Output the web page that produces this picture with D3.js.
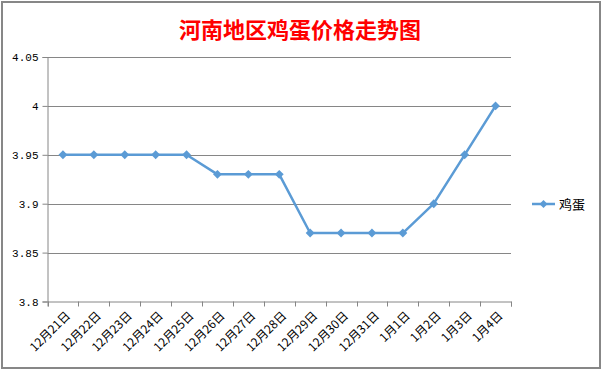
<!DOCTYPE html>
<html><head><meta charset="utf-8">
<script src="https://cdn.jsdelivr.net/npm/d3@7/dist/d3.min.js"></script>
<style>html,body{margin:0;padding:0;background:#fff;}svg{display:block;}</style>
</head><body>
<script>
const categories = ["12月21日","12月22日","12月23日","12月24日","12月25日","12月26日","12月27日","12月28日","12月29日","12月30日","12月31日","1月1日","1月2日","1月3日","1月4日"];
const eggPrices = [3.95,3.95,3.95,3.95,3.95,3.93,3.93,3.93,3.87,3.87,3.87,3.87,3.9,3.95,4.0];
const yTicks = [3.8,3.85,3.9,3.95,4.0,4.05];
const yTickLabels = ["3.8","3.85","3.9","3.95","4","4.05"];
const seriesName = "鸡蛋";
const chartTitle = "河南地区鸡蛋价格走势图";

(function(){
const W = 604, H = 371;
const svg = d3.select("body").append("svg").attr("width", W).attr("height", H);
svg.append("rect").attr("x",0).attr("y",0).attr("width",W).attr("height",H).attr("fill","#fff");
svg.append("rect").attr("x",2).attr("y",2).attr("width",598).attr("height",366)
  .attr("fill","#fff").attr("stroke","#878787").attr("stroke-width",2);

const pLeft = 47.5, pRight = 511, pTop = 57, pBottom = 301.5;
const x = d3.scaleBand().domain(categories).range([pLeft, pRight]);
const y = d3.scaleLinear().domain([3.8, 4.05]).range([pBottom, pTop]);
const grid = "#868686";

svg.append("text").attr("x", 300).attr("y", 38).attr("text-anchor","middle")
  .attr("fill","#ff0000").attr("font-weight","bold").attr("font-size",22)
  .attr("font-family","'Noto Sans CJK SC', sans-serif").text(chartTitle);

// gridlines
svg.append("g").selectAll("line").data(yTicks.slice(1)).join("line")
  .attr("x1", pLeft).attr("x2", pRight)
  .attr("y1", d => Math.round(y(d)) + 0.5).attr("y2", d => Math.round(y(d)) + 0.5)
  .attr("stroke", grid).attr("stroke-width",1);

// y axis
const yAxis = d3.axisLeft(y).tickValues(yTicks).tickFormat((d,i)=>yTickLabels[i]).tickSize(5).tickPadding(4);
const gy = svg.append("g").attr("transform",`translate(${pLeft},0)`).call(yAxis);
gy.select(".domain").attr("stroke", grid);
gy.selectAll(".tick line").attr("stroke", grid);
gy.selectAll(".tick text").attr("font-family","'Liberation Mono', 'DejaVu Sans Mono', monospace").attr("font-size",11).attr("fill","#000");

// x axis
const xAxis = d3.axisBottom(x).tickSizeOuter(0).tickSize(5);
const gx = svg.append("g").attr("transform",`translate(0,${pBottom})`).call(xAxis);
gx.select(".domain").attr("stroke", grid);
gx.selectAll(".tick line").remove();
const bounds = categories.map(c => x(c)).concat([pRight]);
gx.selectAll("line.bt").data(bounds).join("line").attr("class","bt")
  .attr("x1", d => Math.round(d)+0.5).attr("x2", d => Math.round(d)+0.5).attr("y1",0).attr("y2",5).attr("stroke",grid);
gx.selectAll(".tick text")
  .attr("font-family","'Noto Sans CJK SC', sans-serif").attr("font-size",12).attr("fill","#000")
  .attr("text-anchor","end").attr("dy","0.35em")
  .attr("transform","translate(5,12) rotate(-45)").attr("y",0).attr("x",0);

// line
const col = "#5B9BD5";
const line = d3.line().x((d,i)=>x(categories[i]) + x.bandwidth()/2).y(d=>y(d));
svg.append("path").datum(eggPrices).attr("d", line).attr("fill","none")
  .attr("stroke", col).attr("stroke-width",2.5).attr("stroke-linejoin","round");
const diamond = d3.symbol().type(d3.symbolDiamond2).size(50);
svg.append("g").selectAll("path").data(eggPrices).join("path")
  .attr("d", diamond)
  .attr("transform",(d,i)=>`translate(${x(categories[i]) + x.bandwidth()/2},${y(d)})`)
  .attr("fill", col);

// legend
const ly = 204;
svg.append("line").attr("x1",532).attr("x2",555).attr("y1",ly).attr("y2",ly).attr("stroke",col).attr("stroke-width",2.5);
svg.append("path").attr("d", d3.symbol().type(d3.symbolDiamond2).size(40)).attr("transform",`translate(543.5,${ly})`).attr("fill",col);
svg.append("text").attr("x",559).attr("y",ly).attr("dy","0.35em").attr("font-size",13)
  .attr("font-family","'Noto Sans CJK SC', sans-serif").attr("fill","#000").text(seriesName);
})();
</script>
</body></html>
